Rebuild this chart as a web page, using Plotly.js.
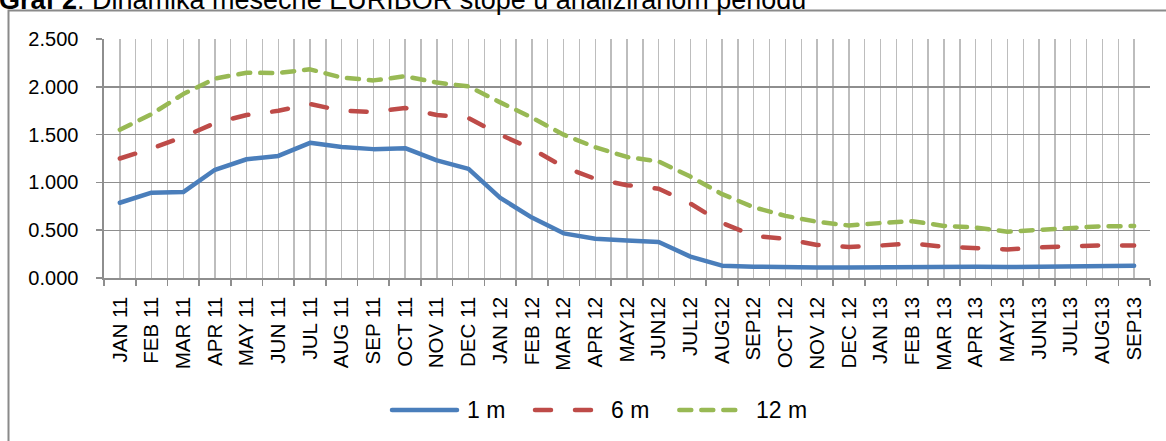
<!DOCTYPE html>
<html>
<head>
<meta charset="utf-8">
<script src="https://cdn.plot.ly/plotly-3.0.1.min.js"></script>
<style>
  html, body { margin: 0; padding: 0; background: #fff; }
  #chart { width: 1166px; height: 441px; }
  .scatterlayer path.js-line { stroke-linecap: round; stroke-linejoin: round; }
  .shapelayer path { stroke-linecap: round; }
</style>
</head>
<body>
<div id="chart"></div>
<script>
const categories = ["JAN 11","FEB 11","MAR 11","APR 11","MAY 11","JUN 11","JUL 11","AUG 11","SEP 11","OCT 11","NOV 11","DEC 11",
  "JAN 12","FEB 12","MAR 12","APR 12","MAY12","JUN12","JUL12","AUG12","SEP12","OCT 12","NOV 12","DEC 12",
  "JAN 13","FEB 13","MAR 13","APR 13","MAY13","JUN13","JUL13","AUG13","SEP13"];
const euribor1m = [0.787,0.893,0.899,1.132,1.242,1.277,1.414,1.371,1.348,1.358,1.230,1.142,
  0.838,0.632,0.467,0.410,0.392,0.376,0.224,0.129,0.118,0.110,0.109,0.110,
  0.112,0.121,0.119,0.118,0.114,0.118,0.126,0.128,0.128];
const euribor6m = [1.250,1.354,1.476,1.620,1.705,1.749,1.820,1.749,1.737,1.778,1.705,1.673,
  1.499,1.350,1.163,1.037,0.971,0.934,0.779,0.576,0.441,0.409,0.346,0.324,
  0.340,0.362,0.327,0.318,0.298,0.320,0.336,0.342,0.340];
const euribor12m = [1.550,1.714,1.924,2.086,2.147,2.144,2.183,2.097,2.067,2.110,2.044,2.004,
  1.837,1.678,1.499,1.368,1.266,1.219,1.061,0.877,0.740,0.650,0.588,0.549,
  0.575,0.594,0.545,0.528,0.484,0.507,0.525,0.542,0.543];
const seriesNames = ["1 m", "6 m", "12 m"];
const yTicks = [0, 0.5, 1.0, 1.5, 2.0, 2.5];
const titleText = "<b>Graf 2</b>: Dinamika mesečne EURIBOR stope u analiziranom periodu";

const W = 1166, H = 441;
const M = {l: 104, r: 16, t: 39, b: 163};
const PW = W - M.l - M.r, PH = H - M.t - M.b;
const px2x = p => (p - M.l) / PW;
const py2y = p => (H - M.b - p) / PH;

const idx = categories.map((_, i) => i);
const bounds = categories.map((_, i) => i - 0.5).concat([categories.length - 0.5]);

const colors = ["#4A7EBB", "#BE4B48", "#98B954"];
const dashes = ["solid", "16px,24px", "12px,10px"];
const values = [euribor1m, euribor6m, euribor12m];

const traces = values.map((v, k) => ({
  x: idx, y: v, type: "scatter", mode: "lines", name: seriesNames[k],
  line: {color: colors[k], width: 4.5, dash: dashes[k]},
  showlegend: false, hoverinfo: "skip"
}));

const font = "Liberation Sans, Arial, sans-serif";
const gridV = "#BDBDBD", gridH = "#8E8E8E", axisC = "#8E8E8E";

// manual legend (sample lines + labels)
const legY = py2y(410);
const legendItems = [
  {x0: 392, x1: 457, tx: 465},
  {x0: 535, x1: 593, tx: 609},
  {x0: 679.3, x1: 737.7, tx: 754}
];
const shapes = [
  {type: "rect", xref: "paper", yref: "paper",
   x0: px2x(8.5), y0: py2y(10.5), x1: px2x(1400), y1: py2y(700),
   line: {color: "#8A8A8A", width: 2}, fillcolor: "rgba(0,0,0,0)"}
];
const annotations = [
  {xref: "paper", yref: "paper", x: px2x(-3), y: py2y(-0.5), xanchor: "left", yanchor: "middle",
   text: titleText, showarrow: false, font: {family: font, size: 27, color: "#000"}}
];
legendItems.forEach((it, k) => {
  shapes.push({type: "line", xref: "paper", yref: "paper",
    x0: px2x(it.x0), x1: px2x(it.x1), y0: legY, y1: legY,
    line: {color: colors[k], width: 4.5, dash: dashes[k]}});
  annotations.push({xref: "paper", yref: "paper", x: px2x(it.tx), y: legY,
    xanchor: "left", yanchor: "middle", text: seriesNames[k], showarrow: false,
    font: {family: font, size: 23, color: "#000"}});
});

const layout = {
  width: W, height: H,
  margin: M,
  paper_bgcolor: "#fff", plot_bgcolor: "#fff",
  showlegend: false,
  xaxis: {
    range: [-0.5, categories.length - 0.5],
    tickmode: "array", tickvals: idx, ticktext: categories,
    tickangle: -90, ticks: "", ticklabelstandoff: 9,
    tickfont: {family: font, size: 20.5, color: "#000"},
    showgrid: true, gridcolor: gridV, gridwidth: 1.4,
    showline: true, linecolor: axisC, linewidth: 1.6,
    zeroline: false, fixedrange: true,
    minor: {tickmode: "array", tickvals: bounds, ticks: "outside", ticklen: 6,
      tickcolor: axisC, tickwidth: 1.6, showgrid: true, gridcolor: gridV, gridwidth: 1.4}
  },
  yaxis: {
    range: [0, 2.5], tickmode: "array", tickvals: yTicks, tickformat: ".3f",
    ticks: "outside", ticklen: 6, tickcolor: axisC, tickwidth: 1.6,
    ticklabelstandoff: 14,
    tickfont: {family: font, size: 20, color: "#000"},
    showgrid: true, gridcolor: gridH, gridwidth: 1.4,
    showline: true, linecolor: axisC, linewidth: 1.6,
    zeroline: false, fixedrange: true
  },
  shapes: shapes,
  annotations: annotations
};

Plotly.newPlot("chart", traces, layout, {staticPlot: true, displayModeBar: false});
</script>
</body>
</html>
